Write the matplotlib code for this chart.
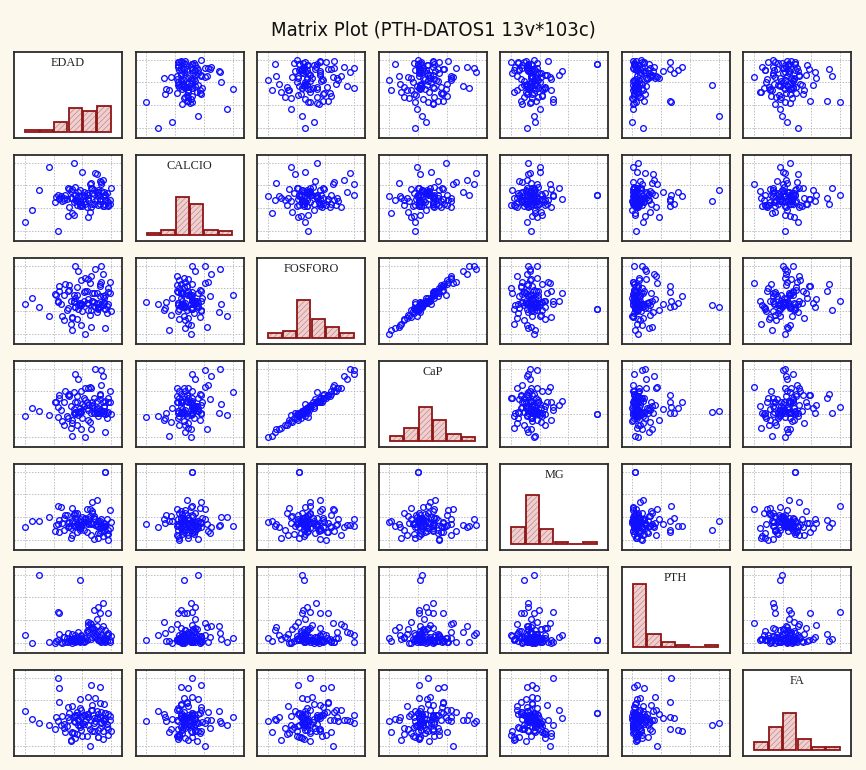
import numpy as np
import matplotlib
matplotlib.use("Agg")
import matplotlib.pyplot as plt

# ---------------- data (103 cases) ----------------
names = ["EDAD", "CALCIO", "FOSFORO", "CaP", "MG", "PTH", "FA"]

EDAD = [20, 25, 30, 37, 43, 54, 76, 76, 70, 67, 58, 71, 74, 68, 44, 43, 72, 78, 70, 44, 66, 72, 64, 69, 58, 62, 55, 73,
        57, 72, 64, 48, 75, 53, 61, 79, 55, 66, 41, 71, 59, 68, 77, 50, 63, 74, 45, 56, 80, 62, 52, 73, 65,
        58, 47, 76, 54, 69, 71, 51, 60, 78, 46, 57, 67, 75, 53, 64, 74, 55, 49, 70, 61, 59, 79, 52, 66, 77,
        42, 56, 63, 72, 58, 68, 76, 54, 60, 73, 47, 55, 65, 78, 50, 62, 71, 57, 67, 75, 59, 64, 51, 53, 56]

CALCIO = [7.4, 7.9, 8.8, 9.8, 7.0, 10.0, 8.6, 8.6, 8.4, 8.9, 8.3, 8.7, 8.55, 8.2, 8.4, 8.6, 8.3, 8.1, 8.7, 8.45, 8.9,
          8.2, 8.6, 8.3, 8.8, 8.55, 8.6, 9.05,
          8.3, 9.2, 7.6, 8.6, 8.1, 8.45, 8.7, 8.2, 8.35, 9.1, 8.25, 8.8, 8.15, 8.62, 8.65, 7.65, 8.05, 9.25, 8.55,
          8.3, 8.9, 8.2, 8.45, 8.75, 9.05, 8.1, 8.35, 8.6, 8.25, 9.55, 8.58, 8.85, 9.6, 8.15, 8.3, 8.55, 8.2, 8.7,
          7.8, 8.45, 8.1, 8.95, 8.4, 9.52, 8.6, 8.25, 8.35, 8.75, 8.05, 8.3, 8.5, 8.15, 8.65, 8.4, 8.2, 8.8, 8.35,
          7.7, 8.1, 9.15, 8.45, 8.6, 7.85, 8.25, 8.9, 8.3, 8.15, 8.7, 8.68, 8.2, 8.55, 8.35, 8.05, 8.85, 8.45]

FOSFORO = [4.6, 5.2, 4.4, 3.6, 4.8, 5.4, 4.2, 4.2, 5.6, 4.9, 4.5, 4.7, 5.35, 4.45, 6.2, 4.9, 4.4, 5.65, 4.6, 5.8, 4.1,
           6.4, 5.05, 4.4, 4.7, 2.0, 8.0, 8.0,
           4.5, 5.3, 4.1, 6.4, 4.7, 3.4, 4.9, 5.6, 4.35, 2.6, 5.55, 4.4, 6.75, 4.8, 3.8, 4.3, 5.75, 7.3, 4.6, 6.1,
           4.05, 5.8, 2.9, 4.5, 6.5, 4.7, 3.2, 5.4, 4.9, 7.7, 4.3, 5.9, 4.6, 6.05, 3.6, 4.15, 5.6, 4.8, 2.3, 6.8,
           4.5, 5.15, 4.1, 3.9, 5.7, 4.6, 6.6, 4.9, 7.1, 4.45, 5.4, 3.3, 4.7, 6.2, 4.5, 5.6, 2.5, 4.8, 4.02, 6.6,
           5.45, 4.4, 3.7, 4.6, 5.8, 6.9, 4.2, 7.5, 4.9, 5.2, 2.8, 4.7, 6.3, 3.5, 5.4]

CaP = [34.0, 41.1, 38.7, 35.3, 33.6, 54.0, 36.1, 36.1, 47.0, 43.6, 37.4, 40.9, 45.7, 36.5, 52.1, 42.1, 36.5, 45.8,
       40.0, 49.0, 36.5, 52.5, 43.4, 36.5, 41.4, 17.1, 68.8, 72.4,
       37.4, 48.8, 31.2, 55.0, 38.1, 28.7, 42.6, 45.9, 36.3, 23.7, 45.8, 38.7, 55.0, 41.4, 32.9, 32.9, 46.3, 67.5,
       39.3, 50.6, 36.0, 47.6, 24.5, 39.4, 58.8, 38.1, 26.7, 46.4, 40.4, 73.5, 36.9, 52.2, 44.2, 49.3, 29.9, 35.5,
       45.9, 41.8, 17.9, 57.5, 36.5, 46.1, 34.4, 37.1, 49.0, 38.0, 55.1, 42.9, 57.2, 36.9, 45.9, 26.9, 40.7, 52.1,
       36.9, 49.3, 20.9, 37.0, 32.6, 60.4, 46.1, 37.8, 29.0, 38.0, 51.6, 57.3, 34.2, 65.3, 42.5, 42.6, 23.9, 39.2,
       50.7, 31.0, 45.6]

MG = [2.07, 2.34, 2.32, 2.52, 2.2, 2.1, 4.5, 4.5, 3.27, 3.18, 1.95, 2.1, 2.1, 2.48, 1.86, 2.97, 2.31, 1.95, 2.2, 2.37,
      2.25, 2.05, 2.25, 2.4, 2.02, 2.3, 2.1, 2.4,
      2.2, 1.8, 2.4, 2.6, 2.1, 1.7, 2.3, 2.02, 2.7, 2.2, 1.9, 2.35, 2.15, 2.55, 1.75, 2.25, 2.88, 2.05, 2.95, 1.85,
      2.3, 2.45, 1.6, 2.1, 2.85, 2.4, 1.95, 2.2, 2.65, 2.15, 1.8, 2.3, 2.52, 1.5, 2.25, 2.05, 2.75, 1.9, 2.35, 2.2,
      1.65, 2.45, 2.6, 2.1, 1.95, 2.3, 2.8, 2.03, 1.7, 2.4, 2.15, 2.7, 1.85, 2.25, 2.35, 1.55, 2.1, 2.6, 2.2, 1.9,
      2.45, 2.3, 2.55, 1.75, 2.05, 2.4, 1.6, 2.15, 2.7, 2.25, 2.05, 2.35, 2.1, 2.9, 2.2]

PTH = [154, 10, 1210, 20, 60, 90, 52, 52, 155, 110, 1114, 646, 706, 586, 538, 550, 538, 540, 430, 166, 82, 40, 330,
       120, 70, 90, 30, 150,
       45, 120, 380, 30, 85, 160, 25, 60, 140, 290, 15, 70, 100, 245, 35, 180, 55, 310, 20, 95, 130, 40, 75, 260,
       355, 50, 110, 28, 65, 190, 225, 38, 80, 145, 12, 58, 270, 105, 42, 200, 72, 33, 88, 300, 48, 125, 22, 68,
       340, 170, 36, 92, 215, 62, 18, 135, 235, 44, 78, 26, 115, 52, 250, 175, 31, 98, 64, 205, 280, 46, 150, 230,
       84, 14, 56]

FA = [366, 294, 258, 240, 280, 310, 348, 348, 306, 372, 240, 200, 192, 306, 450, 660, 318, 210, 306, 570, 600, 580,
      492, 486, 470, 280, 330, 260,
      300, 220, 340, 180, 275, 410, 250, 320, 130, 290, 205, 345, 380, 265, 230, 310, 150, 285, 240, 355, 195, 330,
      110, 270, 60, 395, 215, 305, 175, 280, 140, 350, 262, 156, 325, 245, 420, 295, 185, 315, 120, 270, 235, 365,
      335, 200, 290, 100, 375, 255, 310, 168, 340, 440, 225, 192, 300, 280, 145, 362, 250, 320, 210, 345, 400, 275,
      135, 290, 190, 430, 310, 240, 285, 170, 330]

title = "Matrix Plot (PTH-DATOS1 13v*103c)"

# ---------------- style ----------------
BG = "#fdf8ec"
plt.rcParams["hatch.linewidth"] = 0.45

data = [np.asarray(v, float) for v in (EDAD, CALCIO, FOSFORO, CaP, MG, PTH, FA)]
n = len(data)

W, H = 866, 770
fig = plt.figure(figsize=(W / 100, H / 100), dpi=100, facecolor=BG)
fig.text(0.5, 1 - 30 / H, title, ha="center", va="center", fontsize=14.5,
         family="DejaVu Sans", stretch="condensed", color="#111111")

pw, ph = 108, 86
lefts = [14 + 121.5 * j for j in range(n)]
tops = [52 + 103 * i for i in range(n)]


def xl(v):
    lo, hi = v.min(), v.max()
    r = hi - lo
    return lo - 0.125 * r, hi + 0.125 * r


def yl(v):
    lo, hi = v.min(), v.max()
    r = hi - lo
    return lo - 0.15 * r, hi + 0.115 * r


for i in range(n):
    for j in range(n):
        ax = fig.add_axes([lefts[j] / W, 1 - (tops[i] + ph) / H, pw / W, ph / H])
        ax.set_facecolor("white")
        for s in ax.spines.values():
            s.set_linewidth(1.3)
            s.set_color("#2b2b2b")
        ax.tick_params(length=0, labelbottom=False, labelleft=False)
        vx = data[j]
        if i == j:
            edges = np.linspace(vx.min(), vx.max(), 7)
            counts, _ = np.histogram(vx, bins=edges)
            bw = edges[1] - edges[0]
            centers = edges[:-1] + bw / 2
            ax.bar(centers, counts, width=bw * 0.92, color="#efd0d0", edgecolor="#c08080",
                   hatch="//////", linewidth=0)
            ax.bar(centers, counts, width=bw * 0.92, fill=False, edgecolor="#8e1515", linewidth=1.3)
            ax.set_xlim(*xl(vx))
            ax.set_ylim(-7.5, 98)
            ax.set_xticks([])
            ax.set_yticks([])
            ax.text(0.5, 0.87, names[i], transform=ax.transAxes, ha="center", va="center",
                    fontsize=8.8, family=["Liberation Serif", "DejaVu Serif"], color="#222222")
        else:
            vy = data[i]
            ax.set_xlim(*xl(vx))
            ax.set_ylim(*yl(vy))
            ax.set_xticks(np.linspace(vx.min(), vx.max(), 4))
            ax.set_yticks(np.linspace(vy.min(), vy.max(), 4))
            ax.grid(True, color="#bdbdbd", linestyle=(0, (1.5, 1.5)), linewidth=0.7)
            ax.set_axisbelow(True)
            ax.plot(vx, vy, linestyle="none", marker="o", markersize=4.1, markerfacecolor="none",
                    markeredgecolor="#1010ff", markeredgewidth=0.95)

fig.savefig("out.png", dpi=100, facecolor=BG)
